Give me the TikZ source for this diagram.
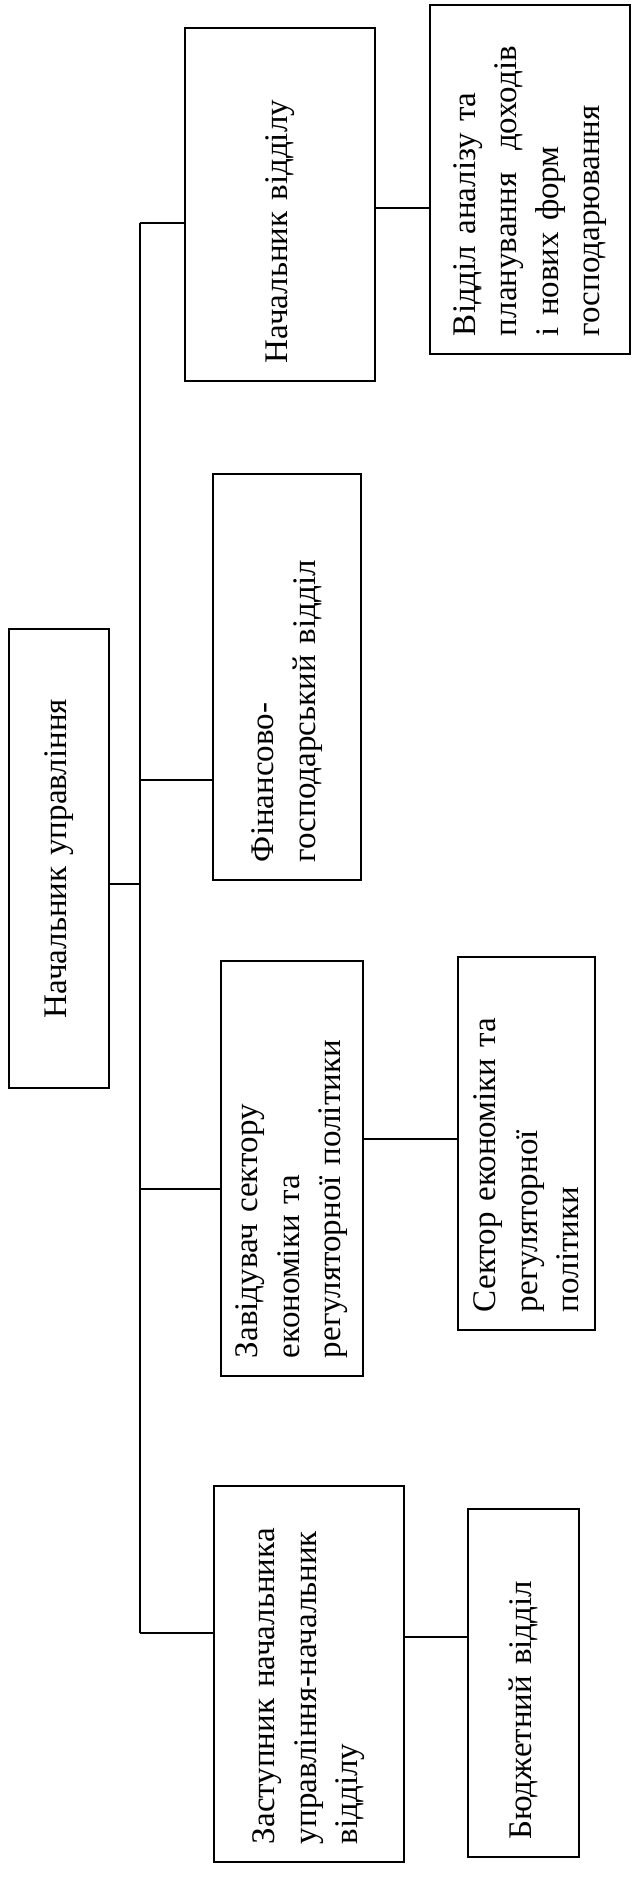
\documentclass[tikz,border=0pt]{standalone}
\usepackage{fontspec}
\setmainfont{Liberation Serif}

\begin{document}
\begin{tikzpicture}[x=1pt, y=-1pt, line width=2pt,
	box/.style={draw, rotate=90, inner xsep=18pt, inner ysep=6pt, align=left, font=\fontsize{33}{41.5}\selectfont}]

	\useasboundingbox[fill=white] (0,0) rectangle (633,1885);

	% boxes (page width = minimum height, page height = minimum width)
	\node[box, align=center, text width=423pt, minimum width=459pt, minimum height=100pt] (nu) at (59,858.5) {Начальник управління};
	\node[box, text width=317pt, minimum width=353pt, minimum height=190pt] (nv) at (280,204.5) {Начальник відділу};
	\node[box, text width=313pt, minimum width=349pt, minimum height=200pt] (va) at (530,179.5) {Відділ аналізу та\\планування~ доходів\\і нових форм\\господарювання};
	\node[box, text width=370pt, minimum width=406pt, minimum height=148pt] (fg) at (287,677) {Фінансово-\\господарський відділ};
	\node[box, text width=379pt, minimum width=415pt, minimum height=142pt] (zs) at (292,1168.5) {Завідувач сектору\\економіки та\\регуляторної політики};
	\node[box, text width=337pt, minimum width=373pt, minimum height=137pt] (se) at (526.5,1143.5) {Сектор економіки та\\регуляторної\\політики};
	\node[box, text width=340pt, minimum width=374pt, minimum height=190pt] (zn) at (309,1674) {Заступник начальника\\управління-начальник\\відділу};
	\node[box, text width=312pt, minimum width=348pt, minimum height=111pt] (bv) at (523.5,1683) {Бюджетний відділ};

	% trunk
	\coordinate (top) at (140,223);
	\coordinate (bot) at (140,1633);
	\coordinate (j1) at (140,780);
	\coordinate (j2) at (140,884);
	\coordinate (j3) at (140,1189);
	\draw (top) -- (bot);
	\draw (top) -- (top -| nv.north);
	\draw (j1) -- (j1 -| fg.north);
	\draw (j2 -| nu.south) -- (j2);
	\draw (j3) -- (j3 -| zs.north);
	\draw (bot) -- (bot -| zn.north);

	% side links
	\coordinate (k1) at (0,208);
	\coordinate (k2) at (0,1139);
	\coordinate (k3) at (0,1637);
	\draw (k1 -| nv.south) -- (k1 -| va.north);
	\draw (k2 -| zs.south) -- (k2 -| se.north);
	\draw (k3 -| zn.south) -- (k3 -| bv.north);
\end{tikzpicture}
\end{document}
